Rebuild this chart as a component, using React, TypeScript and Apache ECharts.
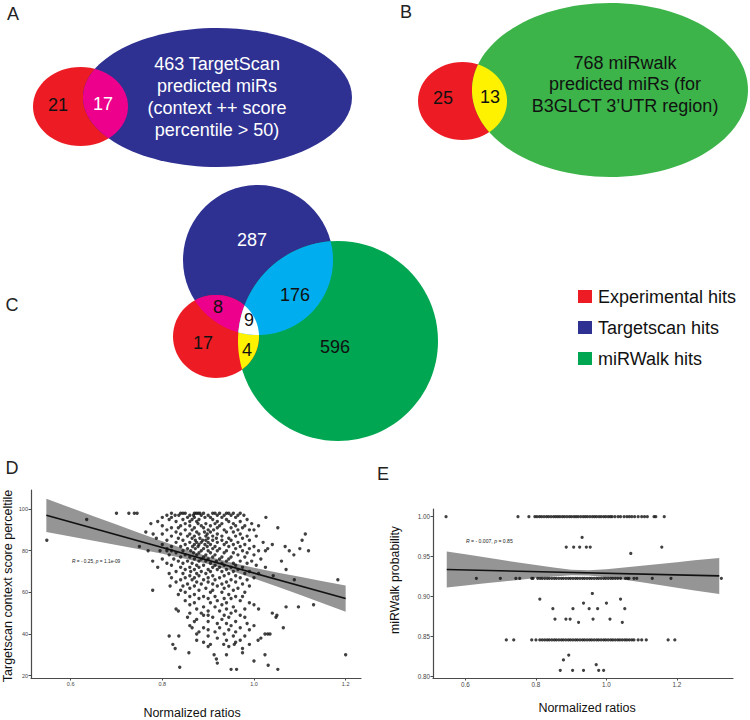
import React, { useEffect, useRef } from 'react';
import * as echarts from 'echarts';

const FONT = '"Liberation Sans", Arial, Helvetica, sans-serif';

// ---------- Venn data ----------
const vennACounts = ['21', '17'];
const vennAText = ['463 TargetScan', 'predicted miRs', '(context ++ score', 'percentile > 50)'];
const vennBCounts = ['25', '13'];
const vennBText = ['768 miRwalk', 'predicted miRs (for', 'B3GLCT 3\u2019UTR region)'];
const vennCCounts = ['287', '176', '8', '9', '17', '4', '596'];
const legendItems = ['Experimental hits', 'Targetscan hits', 'miRWalk hits'];
const panelLetters = ['A', 'B', 'C', 'D', 'E'];

// ---------- Panel D data (TargetScan percentile vs normalized ratio) ----------
const tsRows: [number, number[]][] = [
  [98, [0.70, 0.727, 0.739, 0.745, 0.82, 0.84, 0.845, 0.85, 0.87, 0.874, 0.878, 0.882, 0.89, 0.91, 0.915, 0.925, 0.94, 0.945, 0.955, 0.97]],
  [97, [0.81, 0.828, 0.836, 0.86, 0.868, 0.885, 0.9, 0.92, 0.935, 0.95, 0.965, 0.978]],
  [96, [0.80, 0.82, 0.855, 0.87, 0.893, 0.905, 0.93, 0.96, 1.026]],
  [95, [0.635, 0.815, 0.845, 0.865, 0.88, 0.91, 0.94, 0.985]],
  [94, [0.79, 0.83, 0.86, 0.875, 0.92, 0.945, 0.97]],
  [93, [0.775, 0.85, 0.878, 0.895, 0.915, 0.93, 0.955, 0.995]],
  [92, [0.80, 0.84, 0.86, 0.885, 0.905, 0.925, 0.96, 0.98, 1.01]],
  [91, [0.82, 0.835, 0.87, 0.89, 0.92, 0.95, 0.975, 1.052]],
  [90, [0.81, 0.85, 0.865, 0.9, 0.912, 0.935, 0.965, 0.99, 1.0]],
  [89, [0.764, 0.83, 0.875, 0.892, 0.905, 0.94, 0.955]],
  [88, [0.78, 0.80, 0.84, 0.86, 0.88, 0.898, 0.92, 0.97, 1.112]],
  [87, [0.82, 0.855, 0.87, 0.895, 0.91, 0.93, 0.96, 0.985, 1.005]],
  [86, [0.787, 0.835, 0.865, 0.882, 0.9, 0.918, 0.945, 0.975]],
  [85, [0.548, 0.81, 0.845, 0.872, 0.888, 0.895, 0.91, 0.93, 0.95, 0.99, 1.105]],
  [84, [0.83, 0.86, 0.875, 0.885, 0.9, 0.92, 0.94, 0.965, 1.02]],
  [83, [0.80, 0.85, 0.87, 0.88, 0.893, 0.905, 0.935, 0.955, 0.98, 1.04]],
  [82, [0.75, 0.82, 0.84, 0.866, 0.878, 0.898, 0.915, 0.945, 0.97, 1.0, 1.068]],
  [81, [0.81, 0.855, 0.872, 0.89, 0.91, 0.925, 0.96, 0.99, 1.03, 1.1]],
  [80, [0.769, 0.795, 0.81, 0.82, 0.845, 0.862, 0.885, 0.9, 0.92, 0.94, 0.975, 1.01, 1.025, 1.077, 1.119]],
  [79, [0.83, 0.868, 0.88, 0.905, 0.935, 0.955, 0.985]],
  [78, [0.815, 0.85, 0.875, 0.895, 0.915, 0.965, 1.0, 1.087]],
  [77, [0.84, 0.86, 0.89, 0.91, 0.93, 0.95, 0.98]],
  [76, [0.80, 0.825, 0.87, 0.885, 0.9, 0.925, 0.945, 1.015]],
  [75, [0.779, 0.835, 0.855, 0.88, 0.895, 0.918, 0.94, 0.97, 0.995, 1.06]],
  [74, [0.81, 0.845, 0.865, 0.905, 0.93, 0.955, 0.985]],
  [73, [0.82, 0.875, 0.89, 0.915, 0.935, 0.96, 1.005]],
  [72, [0.79, 0.84, 0.86, 0.88, 0.91, 0.925, 0.95, 0.975, 1.025]],
  [71, [0.85, 0.87, 0.9, 0.92, 0.94, 0.965, 1.07]],
  [70, [0.83, 0.862, 0.885, 0.905, 0.93, 0.955, 0.99]],
  [69, [0.815, 0.845, 0.875, 0.895, 0.945, 0.98, 1.01]],
  [68, [0.86, 0.88, 0.91, 0.935, 0.96, 1.042]],
  [67, [0.82, 0.85, 0.87, 0.9, 0.925, 0.97, 1.0]],
  [66, [0.84, 0.865, 0.89, 0.915, 0.95, 0.985, 1.088, 1.183]],
  [65, [0.83, 0.875, 0.9, 0.94, 0.96]],
  [64, [0.855, 0.885, 0.91, 0.93, 0.975]],
  [63, [0.817, 0.845, 0.87, 0.92, 0.945, 0.99]],
  [62, [0.86, 0.895, 0.935, 0.965]],
  [61, [0.779, 0.84, 0.88, 0.91, 0.955]],
  [60, [0.85, 0.905, 0.93, 0.98]],
  [59, [0.835, 0.87, 0.945]],
  [58, [0.86, 0.89, 0.915, 0.96, 0.975]],
  [57, [0.88, 0.9, 0.935, 0.95]],
  [56, [0.85, 0.92, 0.97]],
  [55, [0.87, 0.905, 0.94, 0.99]],
  [54, [0.86, 0.93, 1.0, 1.13]],
  [53, [0.89, 0.915, 0.955, 1.07, 1.097]],
  [52, [0.83, 0.875, 0.94, 0.98, 1.01]],
  [51, [0.835, 0.9, 0.925, 0.96]],
  [50, [0.86, 0.885, 0.95, 1.04]],
  [49, [0.89, 0.9, 0.935, 0.97, 1.05]],
  [48, [0.855, 0.91, 0.945, 0.98, 1.048]],
  [47, [0.875, 0.93]],
  [46, [0.87, 0.9, 0.96]],
  [45, [0.92, 0.94, 0.985]],
  [44, [0.86, 0.95, 1.0]],
  [43, [0.865, 0.89, 0.925, 0.97, 1.064]],
  [42, [0.9, 0.945, 0.99]],
  [41, [0.88, 0.915, 0.96]],
  [40, [0.875, 0.935, 1.024, 1.03, 1.035]],
  [39, [0.815, 0.836, 0.9, 0.955, 0.98]],
  [38, [0.92, 1.015]],
  [37, [0.875, 0.94, 0.97, 1.009]],
  [36, [0.89, 0.96]],
  [35, [0.823, 0.905, 0.934, 0.957, 0.99]],
  [34, [0.9, 0.945]],
  [33, [0.828, 0.975]],
  [31, [0.858, 0.975]],
  [30, [0.913, 0.94, 1.024, 1.2]],
  [28, [0.918]],
  [27, [1.0]],
  [26, [0.92]],
  [25, [1.031]],
  [24, [0.838]],
  [23, [0.95, 0.962, 1.052]],
];
const tsFitLine = [[0.547, 97.0], [1.2, 57.0]];
const tsBandX = [0.547, 0.6, 0.65, 0.7, 0.75, 0.8, 0.85, 0.9, 0.95, 1.0, 1.05, 1.1, 1.15, 1.2];
const tsBandUpper = [105.0, 100.65, 96.59, 92.53, 88.47, 84.5, 80.71, 77.2, 74.27, 71.8, 69.57, 67.44, 65.36, 63.3];
const tsBandLower = [89.0, 86.85, 84.79, 82.73, 80.67, 78.5, 76.17, 73.56, 70.37, 66.7, 62.81, 58.82, 54.78, 50.7];
const tsXTicks = [0.6, 0.8, 1.0, 1.2];
const tsYTicks = [20, 40, 60, 80, 100];

// ---------- Panel E data (miRWalk probability vs normalized ratio) ----------
const mwRows: [number, number[]][] = [
  [1.0, [0.545, 0.749, 0.78, 0.797, 0.803, 0.81, 0.816, 0.823, 0.83, 0.836, 0.843, 0.85, 0.856, 0.862, 0.868, 0.875, 0.881, 0.888, 0.895, 0.901, 0.908, 0.914, 0.92, 0.927, 0.934, 0.94, 0.946, 0.953, 0.96, 0.966, 0.972, 0.979, 0.985, 0.992, 0.998, 1.005, 1.011, 1.016, 1.024, 1.033, 1.04, 1.05, 1.058, 1.065, 1.072, 1.08, 1.09, 1.1, 1.108, 1.116, 1.135, 1.14, 1.164]],
  [0.974, [0.931]],
  [0.962, [0.886, 0.907, 0.924, 0.943, 0.954, 1.157]],
  [0.954, [1.069]],
  [0.923, [0.631, 0.699, 0.743, 0.754, 0.788, 0.792, 0.805, 0.812, 0.818, 0.825, 0.832, 0.838, 0.845, 0.852, 0.858, 0.865, 0.872, 0.878, 0.885, 0.892, 0.898, 0.905, 0.912, 0.918, 0.925, 0.932, 0.938, 0.945, 0.952, 0.958, 0.965, 0.972, 0.978, 0.985, 0.992, 0.998, 1.005, 1.012, 1.018, 1.025, 1.032, 1.04, 1.054, 1.06, 1.064, 1.078, 1.086, 1.13, 1.183, 1.326]],
  [0.904, [0.96]],
  [0.897, [0.811, 1.04]],
  [0.892, [0.935, 1.0]],
  [0.885, [0.848, 0.905, 0.951, 0.975, 1.052]],
  [0.872, [0.854, 0.885, 0.897, 0.962, 1.01]],
  [0.868, [0.921, 1.045]],
  [0.846, [0.716, 0.737, 0.788, 0.80, 0.811, 0.818, 0.825, 0.832, 0.838, 0.845, 0.852, 0.858, 0.865, 0.872, 0.878, 0.885, 0.892, 0.898, 0.905, 0.912, 0.918, 0.925, 0.932, 0.938, 0.945, 0.952, 0.958, 0.965, 0.972, 0.978, 0.985, 0.992, 0.998, 1.005, 1.012, 1.018, 1.025, 1.032, 1.038, 1.045, 1.052, 1.058, 1.065, 1.072, 1.078, 1.09, 1.1, 1.113, 1.175, 1.194]],
  [0.827, [0.893]],
  [0.821, [0.878]],
  [0.815, [0.971]],
  [0.808, [0.869, 0.904, 0.935, 0.978, 0.992]],
];
const mwFitLine = [[0.547, 0.934], [1.32, 0.926]];
const mwBandX = [0.547, 0.6, 0.65, 0.7, 0.75, 0.8, 0.85, 0.9, 0.95, 1.0, 1.05, 1.1, 1.15, 1.2, 1.25, 1.32];
const mwBandUpper = [0.9565, 0.9529, 0.9496, 0.9461, 0.9428, 0.9395, 0.9364, 0.9338, 0.933, 0.9344, 0.9364, 0.9386, 0.941, 0.9432, 0.9456, 0.9485];
const mwBandLower = [0.9115, 0.9141, 0.9164, 0.9187, 0.921, 0.9233, 0.9254, 0.9268, 0.9266, 0.9242, 0.9212, 0.918, 0.9146, 0.9112, 0.9078, 0.9035];
const mwXTicks = [0.6, 0.8, 1.0, 1.2];
const mwYTicks = [0.8, 0.85, 0.9, 0.95, 1.0];

// ---------- Geometry helpers for Venn overlap regions ----------
type Shape = { cx: number; cy: number; rx: number; ry: number };
const inside = (s: Shape, x: number, y: number) =>
  ((x - s.cx) / s.rx) ** 2 + ((y - s.cy) / s.ry) ** 2 <= 1;
const rayDist = (s: Shape, px: number, py: number, dx: number, dy: number) => {
  const ux = (px - s.cx) / s.rx, uy = (py - s.cy) / s.ry;
  const vx = dx / s.rx, vy = dy / s.ry;
  const a = vx * vx + vy * vy, b = 2 * (ux * vx + uy * vy), c = ux * ux + uy * uy - 1;
  return (-b + Math.sqrt(b * b - 4 * a * c)) / (2 * a);
};
function overlap(shapes: Shape[]): number[][] {
  const s0 = shapes[0];
  let sx = 0, sy = 0, n = 0;
  for (let x = s0.cx - s0.rx; x <= s0.cx + s0.rx; x += 1)
    for (let y = s0.cy - s0.ry; y <= s0.cy + s0.ry; y += 1)
      if (shapes.every((s) => inside(s, x, y))) { sx += x; sy += y; n++; }
  const px = sx / n, py = sy / n;
  const pts: number[][] = [];
  const N = 720;
  for (let k = 0; k < N; k++) {
    const t = (k / N) * Math.PI * 2;
    const dx = Math.cos(t), dy = Math.sin(t);
    let r = Infinity;
    for (const s of shapes) r = Math.min(r, rayDist(s, px, py, dx, dy));
    pts.push([px + r * dx, py + r * dy]);
  }
  return pts;
}

const RED = '#ed1c24';
const BLUE = '#2e3192';
const MAGENTA = '#ec008c';
const GREEN_B = '#3cb44a';
const GREEN_C = '#00a651';
const YELLOW = '#fff200';
const CYAN = '#00aeef';

function txt(x: number, y: number, text: string, size: number, fill: string, extra: any = {}) {
  return {
    type: 'text', x, y, silent: true, ...extra,
    style: {
      text, fill, fontSize: size, fontFamily: FONT,
      textAlign: 'center', align: 'center', textVerticalAlign: 'middle', verticalAlign: 'middle',
      ...(extra.style || {}),
    },
  };
}

function buildGraphic() {
  const els: any[] = [];
  // Panel A
  const aRed: Shape = { cx: 80.5, cy: 106.5, rx: 47.5, ry: 39.5 };
  const aBlue: Shape = { cx: 217.5, cy: 97.5, rx: 134.5, ry: 69.5 };
  els.push({ type: 'ellipse', shape: aRed, style: { fill: RED } });
  els.push({ type: 'ellipse', shape: aBlue, style: { fill: BLUE } });
  els.push({ type: 'polygon', shape: { points: overlap([aRed, aBlue]) }, style: { fill: MAGENTA } });
  els.push(txt(58, 105, vennACounts[0], 18, '#111'));
  els.push(txt(103, 104, vennACounts[1], 18, '#fff'));
  els.push(txt(217, 97, vennAText.join('\n'), 18, '#fff', { style: { lineHeight: 22 } }));

  // Panel B
  const bRed: Shape = { cx: 462.5, cy: 101, rx: 44.5, ry: 39 };
  const bGreen: Shape = { cx: 610, cy: 90, rx: 138, ry: 87 };
  els.push({ type: 'ellipse', shape: bRed, style: { fill: RED } });
  els.push({ type: 'ellipse', shape: bGreen, style: { fill: GREEN_B } });
  els.push({ type: 'polygon', shape: { points: overlap([bRed, bGreen]) }, style: { fill: YELLOW } });
  els.push(txt(443, 98, vennBCounts[0], 18, '#111'));
  els.push(txt(490, 97, vennBCounts[1], 18, '#111'));
  els.push(txt(625, 84, vennBText.join('\n'), 18, '#111', { style: { lineHeight: 21.5 } }));

  // Panel C
  const cBlue: Shape = { cx: 258, cy: 260, rx: 75, ry: 75 };
  const cGreen: Shape = { cx: 338, cy: 341, rx: 100, ry: 100 };
  const cRed: Shape = { cx: 216, cy: 336.5, rx: 43, ry: 41.5 };
  els.push({ type: 'ellipse', shape: cBlue, style: { fill: BLUE } });
  els.push({ type: 'ellipse', shape: cGreen, style: { fill: GREEN_C } });
  els.push({ type: 'ellipse', shape: cRed, style: { fill: RED } });
  els.push({ type: 'polygon', shape: { points: overlap([cRed, cBlue]) }, style: { fill: MAGENTA } });
  els.push({ type: 'polygon', shape: { points: overlap([cRed, cGreen]) }, style: { fill: YELLOW } });
  els.push({ type: 'polygon', shape: { points: overlap([cBlue, cGreen]) }, style: { fill: CYAN } });
  els.push({ type: 'polygon', shape: { points: overlap([cRed, cBlue, cGreen]) }, style: { fill: '#ffffff' } });
  const cPos = [[252, 240, '#fff'], [295, 295, '#111'], [218, 307, '#111'], [249, 320, '#111'], [203, 343, '#111'], [247, 350, '#111'], [335, 347, '#111']];
  vennCCounts.forEach((c, i) => els.push(txt(cPos[i][0] as number, cPos[i][1] as number, c, 18, cPos[i][2] as string)));

  // Legend
  const legColors = [RED, BLUE, GREEN_C];
  const legY = [297, 328, 359];
  legendItems.forEach((name, i) => {
    els.push({ type: 'rect', shape: { x: 578, y: legY[i] - 7, width: 14, height: 13 }, style: { fill: legColors[i] } });
    els.push({
      type: 'text', x: 598, y: legY[i], silent: true,
      style: { text: name, fill: '#111', fontSize: 18, fontFamily: FONT, textAlign: 'left', align: 'left', textVerticalAlign: 'middle', verticalAlign: 'middle' },
    });
  });

  // Panel letters
  const letterPos = [[13, 14], [406, 12], [12, 305], [12, 468], [383, 474]];
  panelLetters.forEach((l, i) => els.push(txt(letterPos[i][0], letterPos[i][1], l, 18, '#222')));

  // Axis titles
  els.push(txt(8, 586, 'Targetscan context score perceltile', 12.5, '#111', { rotation: Math.PI / 2 }));
  els.push(txt(192, 713, 'Normalized ratios', 12.5, '#111'));
  els.push(txt(395, 580, 'miRWalk probability', 12.3, '#111', { rotation: Math.PI / 2 }));
  els.push(txt(587, 708, 'Normalized ratios', 12.5, '#111'));

  // Correlation annotations
  const ann = (x: number, y: number, text: string, size: number) => ({
    type: 'text', x, y, silent: true,
    style: {
      text, fill: '#222', fontSize: size, fontFamily: FONT,
      textAlign: 'left', align: 'left', textVerticalAlign: 'middle', verticalAlign: 'middle',
      rich: { i: { fontStyle: 'italic', fontSize: size, fontFamily: FONT, fill: '#222' } },
    },
  });
  els.push(ann(72, 561, '{i|R} = - 0.25, {i|p} = 1.1e-09', 4.8));
  els.push(ann(466, 541, '{i|R} = - 0.007, {i|p} = 0.85', 5.1));
  return els;
}

function axisCommon(ticks: number[], digits: number, fontSize: number) {
  return {
    type: 'value',
    axisLine: { show: true, onZero: false, lineStyle: { color: '#4a4a4a', width: 1.2 } },
    axisTick: { show: true, length: 2.5, customValues: ticks, lineStyle: { color: '#4a4a4a', width: 1 } },
    axisLabel: { customValues: ticks, formatter: (v: number) => v.toFixed(digits), fontSize, color: '#444', margin: 3, fontFamily: FONT },
    splitLine: { show: false },
  };
}

function ribbon(xs: number[], up: number[], lo: number[], idx: number) {
  return {
    type: 'custom', xAxisIndex: idx, yAxisIndex: idx, z: 1, clip: false, silent: true,
    data: [[xs[0], up[0]]],
    renderItem: (_p: any, api: any) => {
      const top = xs.map((x, i) => api.coord([x, up[i]]));
      const bot = xs.map((x, i) => api.coord([x, lo[i]])).reverse();
      return { type: 'polygon', shape: { points: top.concat(bot) }, style: { fill: '#959595' } };
    },
  };
}

export default function App() {
  const ref = useRef<HTMLDivElement>(null);
  useEffect(() => {
    if (!ref.current) return;
    const chart = echarts.init(ref.current, undefined, { renderer: 'svg' });
    const tsPoints = tsRows.flatMap(([y, xs]) => xs.map((x) => [x, y]));
    const mwPoints = mwRows.flatMap(([y, xs]) => xs.map((x) => [x, y]));
    chart.setOption({
      animation: false,
      backgroundColor: '#ffffff',
      grid: [
        { left: 31, top: 490, width: 330, height: 188 },
        { left: 433, top: 509, width: 300, height: 169 },
      ],
      xAxis: [
        { gridIndex: 0, min: 0.5135, max: 1.2335, ...axisCommon(tsXTicks, 1, 5.5) },
        { gridIndex: 1, min: 0.508, max: 1.359, ...axisCommon(mwXTicks, 1, 6.3) },
      ],
      yAxis: [
        { gridIndex: 0, min: 18.85, max: 109.15, ...axisCommon(tsYTicks, 0, 5.5) },
        { gridIndex: 1, min: 0.7984, max: 1.0096, ...axisCommon(mwYTicks, 2, 6.3) },
      ],
      graphic: { elements: buildGraphic() },
      series: [
        ribbon(tsBandX, tsBandUpper, tsBandLower, 0),
        { type: 'scatter', xAxisIndex: 0, yAxisIndex: 0, z: 2, data: tsPoints, symbolSize: 3.4, itemStyle: { color: '#111' }, silent: true },
        { type: 'line', xAxisIndex: 0, yAxisIndex: 0, z: 3, data: tsFitLine, showSymbol: false, lineStyle: { color: '#111', width: 1.6 }, silent: true },
        ribbon(mwBandX, mwBandUpper, mwBandLower, 1),
        { type: 'scatter', xAxisIndex: 1, yAxisIndex: 1, z: 2, data: mwPoints, symbolSize: 3.2, itemStyle: { color: '#111' }, silent: true },
        { type: 'line', xAxisIndex: 1, yAxisIndex: 1, z: 3, data: mwFitLine, showSymbol: false, lineStyle: { color: '#111', width: 1.6 }, silent: true },
      ],
    });
    return () => chart.dispose();
  }, []);
  return <div ref={ref} style={{ position: 'absolute', left: 0, top: 0, width: 750, height: 720 }} />;
}
